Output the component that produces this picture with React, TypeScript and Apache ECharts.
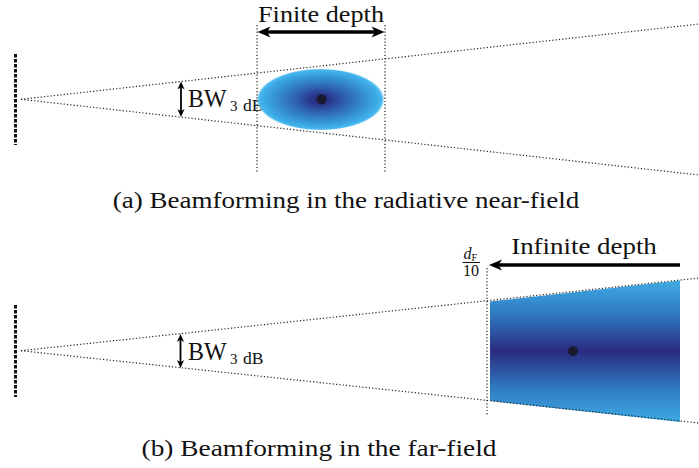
import React, { useEffect, useRef } from "react";
import * as echarts from "echarts";

const WIDTH = 699;
const HEIGHT = 468;
const SERIF = "'Liberation Serif', 'Times New Roman', serif";

// Panel (a): beamforming in the radiative near-field (diagram units = px)
const nearArray = [[15.5, 54], [15.5, 145]];
const nearBeamUpper = [[21, 99.3], [699, 24]];
const nearBeamLower = [[21, 99.3], [699, 175]];
const nearDepthBoundLeft = [[257, 25], [257, 172]];
const nearDepthBoundRight = [[385, 25], [385, 172]];
const nearSpot = [[320.5, 99.5, 64, 31]]; // cx, cy, rx, ry
const nearDepthArrow = [[257.5, 32, 384.5, 32, 1]]; // x1, y1, x2, y2, double-headed
const nearBwArrow = [[181, 81.5, 181, 117, 1]];

// Panel (b): beamforming in the far-field
const farArray = [[15.5, 305], [15.5, 397]];
const farBeamUpper = [[21, 350.7], [699, 278]];
const farBeamLower = [[21, 350.7], [699, 423]];
const farDepthBound = [[487, 268], [487, 415]];
const farSpot = [[490, 301.5], [680, 280.5], [680, 422], [490, 401]];
const farDepthArrow = [[680, 265, 489, 265, 0]];
const farBwArrow = [[180.5, 334, 180.5, 368, 1]];

// Focal points of both beams
const focusPoints = [[321.5, 99.3], [573, 351]];

// Text
const captions = ["(a) Beamforming in the radiative near-field", "(b) Beamforming in the far-field"];
const depthLabels = ["Finite depth", "Infinite depth"];
const bwLabel = ["BW", "3", "dB"];
const fractionLabel = ["d", "F", "10"];

const dotted = { color: "#222", width: 1.2, type: [1.2, 2.1] as number[] };

function dottedLine(data: number[][]) {
  return {
    type: "line",
    data,
    symbol: "none",
    silent: true,
    lineStyle: dotted,
    z: 3,
  };
}

function arrayLine(data: number[][]) {
  return {
    type: "line",
    data,
    symbol: "none",
    silent: true,
    lineStyle: { color: "#111", width: 3, type: [3.6, 1.4] },
    z: 3,
  };
}

function arrowRenderer(lineWidth: number, headLen: number, headHalf: number) {
  return (params: any, api: any) => {
    const p1 = api.coord([api.value(0), api.value(1)]);
    const p2 = api.coord([api.value(2), api.value(3)]);
    const both = api.value(4) === 1;
    const dx = p2[0] - p1[0];
    const dy = p2[1] - p1[1];
    const len = Math.hypot(dx, dy);
    const ux = dx / len;
    const uy = dy / len;
    const nx = -uy;
    const ny = ux;
    const head = (tip: number[], dir: number) => {
      const bx = tip[0] - dir * ux * headLen;
      const by = tip[1] - dir * uy * headLen;
      const notch = [tip[0] - dir * ux * headLen * 0.72, tip[1] - dir * uy * headLen * 0.72];
      return {
        type: "polygon",
        shape: {
          points: [
            tip,
            [bx + nx * headHalf, by + ny * headHalf],
            notch,
            [bx - nx * headHalf, by - ny * headHalf],
          ],
        },
        style: { fill: "#000" },
      };
    };
    const inset = headLen * 0.6;
    const start = both ? [p1[0] + ux * inset, p1[1] + uy * inset] : p1;
    const end = [p2[0] - ux * inset, p2[1] - uy * inset];
    const children: any[] = [
      {
        type: "line",
        shape: { x1: start[0], y1: start[1], x2: end[0], y2: end[1] },
        style: { stroke: "#000", lineWidth },
      },
      head(p2, 1),
    ];
    if (both) children.push(head(p1, -1));
    return { type: "group", children };
  };
}

function text(
  str: string,
  x: number,
  y: number,
  size: number,
  opts: { align?: string; scaleX?: number; italic?: boolean } = {}
) {
  return {
    type: "text",
    x,
    y,
    scaleX: opts.scaleX ?? 1,
    silent: true,
    style: {
      text: str,
      fontFamily: SERIF,
      fontSize: size,
      fontStyle: opts.italic ? "italic" : "normal",
      fill: "#111",
      align: opts.align ?? "left",
      verticalAlign: "middle",
    },
  };
}

export default function App() {
  const ref = useRef<HTMLDivElement>(null);

  useEffect(() => {
    if (!ref.current) return;
    const chart = echarts.init(ref.current, null, { renderer: "svg" });

    const spotGradient = new echarts.graphic.RadialGradient(0.5, 0.5, 0.5, [
      { offset: 0, color: "#26267a" },
      { offset: 0.15, color: "#29368a" },
      { offset: 0.4, color: "#2e62b0" },
      { offset: 0.7, color: "#3591d1" },
      { offset: 0.9, color: "#3eaee8" },
      { offset: 0.96, color: "#4ab9ee" },
      { offset: 1, color: "rgba(120,205,242,0.1)" },
    ]);
    const farGradient = new echarts.graphic.LinearGradient(0, 0, 0, 1, [
      { offset: 0, color: "#3eabe4" },
      { offset: 0.25, color: "#2f77bf" },
      { offset: 0.5, color: "#2a2b80" },
      { offset: 0.75, color: "#2f77bf" },
      { offset: 1, color: "#3eabe4" },
    ]);

    chart.setOption({
      animation: false,
      backgroundColor: "#ffffff",
      grid: { left: 0, right: 0, top: 0, bottom: 0 },
      xAxis: { type: "value", min: 0, max: WIDTH, show: false },
      yAxis: { type: "value", min: 0, max: HEIGHT, inverse: true, show: false },
      series: [
        // near-field focal spot
        {
          type: "custom",
          data: nearSpot,
          silent: true,
          z: 2,
          renderItem: (params: any, api: any) => {
            const c = api.coord([api.value(0), api.value(1)]);
            const s = api.size([api.value(2), api.value(3)]);
            return {
              type: "ellipse",
              shape: { cx: c[0], cy: c[1], rx: s[0], ry: s[1] },
              style: { fill: spotGradient },
            };
          },
        },
        // far-field illuminated region
        {
          type: "custom",
          data: [0],
          silent: true,
          z: 2,
          renderItem: (params: any, api: any) => ({
            type: "polygon",
            shape: { points: farSpot.map((p) => api.coord(p)) },
            style: { fill: farGradient },
          }),
        },
        dottedLine(nearBeamUpper),
        dottedLine(nearBeamLower),
        dottedLine(nearDepthBoundLeft),
        dottedLine(nearDepthBoundRight),
        dottedLine(farBeamUpper),
        dottedLine(farBeamLower),
        dottedLine(farDepthBound),
        arrayLine(nearArray),
        arrayLine(farArray),
        {
          type: "custom",
          data: [...nearDepthArrow, ...farDepthArrow],
          silent: true,
          z: 5,
          renderItem: arrowRenderer(3.6, 13, 5.5),
        },
        {
          type: "custom",
          data: [...nearBwArrow, ...farBwArrow],
          silent: true,
          z: 5,
          renderItem: arrowRenderer(1.8, 8, 3.6),
        },
        {
          type: "scatter",
          data: focusPoints,
          symbolSize: 10,
          silent: true,
          itemStyle: { color: "#151515" },
          z: 6,
        },
      ],
      graphic: [
        text(depthLabels[0], 321, 14, 23, { align: "center", scaleX: 1.14 }),
        text(depthLabels[1], 584, 246.5, 23, { align: "center", scaleX: 1.17 }),
        text(bwLabel[0], 188, 98.5, 26, { scaleX: 0.92 }),
        text(bwLabel[1], 230, 106, 15),
        text(bwLabel[2], 243, 106, 16, { scaleX: 1.1 }),
        text(bwLabel[0], 188, 351.5, 26, { scaleX: 0.92 }),
        text(bwLabel[1], 230, 358.5, 15),
        text(bwLabel[2], 243, 358.5, 16, { scaleX: 1.1 }),
        text(fractionLabel[0], 463.5, 253.5, 16, { italic: true }),
        text(fractionLabel[1], 471.5, 257, 10),
        {
          type: "line",
          silent: true,
          shape: { x1: 462.5, y1: 262.5, x2: 480, y2: 262.5 },
          style: { stroke: "#111", lineWidth: 1 },
        },
        text(fractionLabel[2], 471, 270.5, 16, { align: "center" }),
        text(captions[0], 346, 200, 23, { align: "center", scaleX: 1.175 }),
        text(captions[1], 319, 448, 23, { align: "center", scaleX: 1.19 }),
      ],
    });

    return () => chart.dispose();
  }, []);

  return (
    <div
      ref={ref}
      style={{ position: "absolute", left: 0, top: 0, width: WIDTH, height: HEIGHT, background: "#fff" }}
    />
  );
}
